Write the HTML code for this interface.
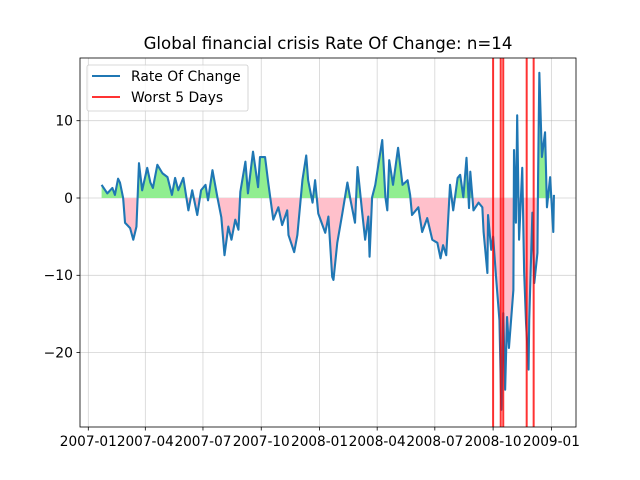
<!DOCTYPE html>
<html><head><meta charset="utf-8">
<style>
html,body{margin:0;padding:0;background:#fff;}
svg{display:block;font-family:"DejaVu Sans","Liberation Sans",sans-serif;}
</style></head>
<body>
<svg id="chart" width="640" height="480" viewBox="0 0 640 480">
<rect x="0" y="0" width="640" height="480" fill="#fff"/>
<text x="328" y="49" text-anchor="middle" font-size="16.6" fill="#000">Global financial crisis Rate Of Change: n=14</text>
<g id="grid"></g>
<defs>
<clipPath id="clipTop"><rect id="ctop" x="80" y="58" width="496" height="140"/></clipPath>
<clipPath id="clipBot"><rect id="cbot" x="80" y="198" width="496" height="229"/></clipPath>
<clipPath id="clipAx"><rect x="80" y="58" width="496" height="369"/></clipPath>
</defs>
<g id="plot" clip-path="url(#clipAx)"></g>
<rect x="80" y="58" width="496" height="369" fill="none" stroke="#000" stroke-width="0.8"/>
<g id="axes"></g>
<g>
<rect x="87" y="65" width="161" height="46" rx="2" fill="#fff" fill-opacity="0.8" stroke="#ccc" stroke-width="0.8"/>
<line x1="92" y1="76" x2="120" y2="76" stroke="#1f77b4" stroke-width="2"/>
<text x="131" y="81" font-size="13.9" fill="#000">Rate Of Change</text>
<line x1="92" y1="97" x2="120" y2="97" stroke="#ff0000" stroke-opacity="0.8" stroke-width="2"/>
<text x="131" y="102" font-size="13.9" fill="#000">Worst 5 Days</text>
</g>
</svg>
<script>
// days since base date
const baseDate = "2007-01-04";
const days = [18,27,35,39,44,47,52,55,63,68,73,77,82,90,95,99,106,114,122,129,134,139,147,155,161,169,175,182,186,193,201,207,212,218,223,229,234,237,245,249,257,265,268,276,281,289,297,303,311,313,322,327,335,341,344,351,355,360,371,376,382,384,390,398,406,411,418,422,429,434,439,441,445,450,456,461,466,469,472,478,486,493,501,505,508,518,524,532,540,548,553,557,562,568,573,580,584,589,594,598,600,605,613,619,621,627,628,633,636,641,646,649,652,655,658,661,668,669,672,674,677,682,685,688,692,693,698,701,706,707,709,713,718,721,726,731,732];
const values = [1.7,0.6,1.3,0.4,2.5,2,0,-3.2,-3.9,-5.4,-3.7,4.5,1,3.9,2,1.3,4.3,3.2,2.7,0.4,2.6,1,2.6,-1.6,1,-2.2,1,1.7,-0.3,3.6,0,-2.5,-7.4,-3.7,-5.4,-2.8,-4.1,0.8,4.7,0.6,6,1.4,5.3,5.3,2,-2.8,-1.2,-3.5,-1.6,-4.8,-7,-4.8,2.3,5.5,2.3,-0.6,2.3,-2,-4.5,-2.4,-10.2,-10.6,-5.8,-2,2,-0.3,-3.2,4,-1.6,-5.4,-2.4,-7.6,0.1,1.7,4.9,7.5,0.1,-1.6,4.9,1.7,6.5,1.7,2.3,0.4,-2.2,-1.2,-4.4,-2.6,-5.4,-5.8,-7.8,-6.1,-7.4,1.7,-1.6,2.6,3,0.1,5.2,-1.3,3.4,-1.6,-0.6,-1.2,-4.4,-9.7,-2.2,-6.7,-5,-10.6,-15.8,-27.4,-14.9,-24.8,-15.4,-19.4,-11.9,6.2,-3.2,10.7,-5.4,3.9,-9.6,-16.2,-22.2,-15.8,-1.9,-11,-7.1,2.7,16.2,5.3,8.5,-1.2,2.7,-4.4,0.4];
const worstDays = [636,648,652,689,700];
const xTickLabels = ["2007-01","2007-04","2007-07","2007-10","2008-01","2008-04","2008-07","2008-10","2009-01"];
const yTicks = [-20,-10,0,10];

const NS = "http://www.w3.org/2000/svg";
const base = new Date(baseDate + "T00:00:00Z");
const origin = new Date("2007-01-01T00:00:00Z");
const pxPerDay = 0.6335;
const baseShift = (base - origin)/86400000;
function xScale(d){ return 88.3 + (d + baseShift) * pxPerDay; }
function xDate(s){ return 88.3 + ((new Date(s + "-01T00:00:00Z") - origin)/86400000) * pxPerDay; }
function yScale(v){ return 198 - v * 7.73; }
function mk(tag, attrs, parent){
  const e = document.createElementNS(NS, tag);
  for (const k in attrs) e.setAttribute(k, attrs[k]);
  parent.appendChild(e); return e;
}
const grid = document.getElementById('grid');
const axes = document.getElementById('axes');
const plot = document.getElementById('plot');

xTickLabels.forEach(lbl => {
  const x = xDate(lbl);
  const g = mk('line', {x1:x, x2:x, y1:58, y2:427, stroke:'#b0b0b0', 'stroke-opacity':0.55, 'stroke-width':0.8}, grid);
  
  
  const t = mk('line', {x1:x, x2:x, y1:427, y2:430.5, stroke:'#000', 'stroke-width':0.8}, axes);
  
  
  const tx = mk('text', {x:x, y:446, 'text-anchor':'middle', 'font-size':13.9, fill:'#000', textLength:57, lengthAdjust:'spacingAndGlyphs'}, axes);
  tx.textContent = lbl;
  
  
});
yTicks.forEach(v => {
  const y = yScale(v);
  const g = mk('line', {x1:80, x2:576, y1:y, y2:y, stroke:'#b0b0b0', 'stroke-opacity':0.55, 'stroke-width':0.8}, grid);
  
  
  const t = mk('line', {x1:76.5, x2:80, y1:y, y2:y, stroke:'#000', 'stroke-width':0.8}, axes);
  
  
  const tx = mk('text', {x:73, y:y+4.8, 'text-anchor':'end', 'font-size':13.9, fill:'#000'}, axes);
  tx.textContent = v < 0 ? '\u2212' + Math.abs(v) : String(v);
  
  
});

let pts = days.map((d,i) => xScale(d).toFixed(2) + ',' + yScale(values[i]).toFixed(2));
const x0 = xScale(days[0]).toFixed(2), x1 = xScale(days[days.length-1]).toFixed(2), y0 = yScale(0);
const areaD = 'M' + x0 + ',' + y0 + ' L' + pts.join(' L') + ' L' + x1 + ',' + y0 + ' Z';
const pos = mk('path', {d:areaD, fill:'#90ee90', 'clip-path':'url(#clipTop)'}, plot);


const neg = mk('path', {d:areaD, fill:'#ffc0cb', 'clip-path':'url(#clipBot)'}, plot);



const line = mk('polyline', {points:pts.join(' '), fill:'none', stroke:'#1f77b4', 'stroke-width':2.1, 'stroke-linejoin':'round'}, plot);



worstDays.forEach(d => {
  const x = xScale(d);
  const l = mk('line', {x1:x, x2:x, y1:58, y2:427, stroke:'#ff0000', 'stroke-opacity':0.8, 'stroke-width':2}, plot);
  
  
});
</script>
</body></html>
